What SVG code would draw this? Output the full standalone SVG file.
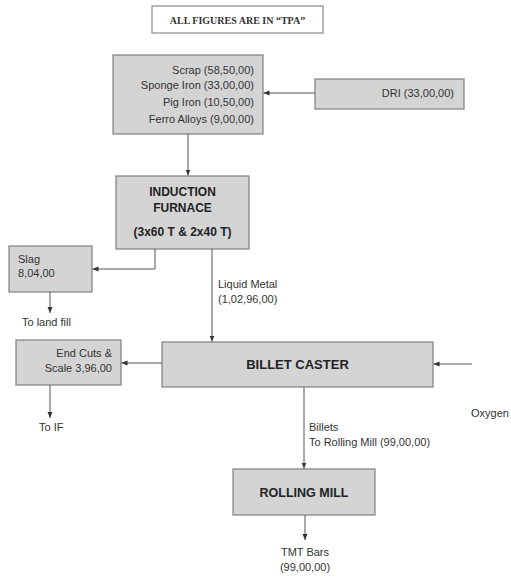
<svg xmlns="http://www.w3.org/2000/svg" width="511" height="577" viewBox="0 0 511 577">
<style>
.box{fill:#d4d4d4;stroke:#7f7f7f;stroke-width:1.2}
.t{font-family:"Liberation Sans",Arial,sans-serif;font-size:11px;fill:#333}
.b{font-family:"Liberation Sans",Arial,sans-serif;font-weight:bold;fill:#222}
.ln{stroke:#555;stroke-width:1;fill:none}
</style>
<defs>
<marker id="ah" viewBox="0 0 6 6" refX="6" refY="3" markerWidth="6" markerHeight="6" orient="auto" markerUnits="userSpaceOnUse">
<path d="M0,0.5 L6,3 L0,5.5 z" fill="#333"/>
</marker>
</defs>
<rect width="511" height="577" fill="#fff"/>
<g id="title">
<rect x="152" y="6" width="171" height="27" fill="#fff" stroke="#888" stroke-width="1.2"/>
<text x="237.5" y="23.5" text-anchor="middle" font-family="'Liberation Serif','Times New Roman',serif" font-weight="bold" font-size="10" fill="#333">ALL FIGURES ARE IN “TPA”</text>
</g>
<g id="inputs">
<rect class="box" x="113" y="55" width="150" height="79"/>
<text class="t" text-anchor="end" x="254" y="74">Scrap (58,50,00)</text>
<text class="t" text-anchor="end" x="254" y="89">Sponge Iron (33,00,00)</text>
<text class="t" text-anchor="end" x="254" y="106">Pig Iron (10,50,00)</text>
<text class="t" text-anchor="end" x="254" y="123">Ferro Alloys (9,00,00)</text>
</g>
<g id="dri">
<rect class="box" x="315" y="79" width="149" height="30"/>
<text class="t" text-anchor="end" x="454" y="97">DRI (33,00,00)</text>
</g>
<g id="furnace">
<rect class="box" x="116" y="176" width="133" height="73"/>
<text class="b" font-size="12" text-anchor="middle" x="182.5" y="196">INDUCTION</text>
<text class="b" font-size="12" text-anchor="middle" x="182.5" y="212">FURNACE</text>
<text class="b" font-size="12" text-anchor="middle" x="182.5" y="236">(3x60 T &amp; 2x40 T)</text>
</g>
<g id="slag">
<rect class="box" x="9" y="246" width="83" height="46"/>
<text class="t" x="18" y="263">Slag</text>
<text class="t" x="18" y="277">8,04,00</text>
</g>
<g id="landfill">
<text class="t" x="22" y="326">To land fill</text>
</g>
<g id="endcuts">
<rect class="box" x="16" y="340" width="105" height="45"/>
<text class="t" text-anchor="end" x="112" y="357">End Cuts &amp;</text>
<text class="t" text-anchor="end" x="112" y="372">Scale 3,96,00</text>
</g>
<g id="toif">
<text class="t" x="39" y="431">To IF</text>
</g>
<g id="caster">
<rect class="box" x="162" y="342" width="271" height="45"/>
<text class="b" font-size="13" text-anchor="middle" x="297.5" y="369">BILLET CASTER</text>
</g>
<g id="oxygen">
<text class="t" x="471" y="417">Oxygen</text>
</g>
<g id="rolling">
<rect class="box" x="233" y="469" width="142" height="46"/>
<text class="b" font-size="12.5" text-anchor="middle" x="304" y="497">ROLLING MILL</text>
</g>
<g id="tmt">
<text class="t" text-anchor="middle" x="305" y="556">TMT Bars</text>
<text class="t" text-anchor="middle" x="305" y="571">(99,00,00)</text>
</g>
<g id="connectors">
<line class="ln" x1="315" y1="93" x2="263.5" y2="93" marker-end="url(#ah)"/>
<line class="ln" x1="188" y1="134" x2="188" y2="175.5" marker-end="url(#ah)"/>
<polyline class="ln" points="155,249 155,269 92.5,269" marker-end="url(#ah)"/>
<line class="ln" x1="50" y1="292" x2="50" y2="313" marker-end="url(#ah)"/>
<line class="ln" x1="212" y1="249" x2="212" y2="341.5" marker-end="url(#ah)"/>
<text class="t" x="218" y="288">Liquid Metal</text>
<text class="t" x="218" y="303">(1,02,96,00)</text>
<line class="ln" x1="162" y1="363" x2="121.5" y2="363" marker-end="url(#ah)"/>
<line class="ln" x1="472" y1="364" x2="433.5" y2="364" marker-end="url(#ah)"/>
<line class="ln" x1="50" y1="385" x2="50" y2="418" marker-end="url(#ah)"/>
<line class="ln" x1="304" y1="387" x2="304" y2="468.5" marker-end="url(#ah)"/>
<text class="t" x="309" y="431">Billets</text>
<text class="t" x="309" y="446">To Rolling Mill (99,00,00)</text>
<line class="ln" x1="305" y1="515" x2="305" y2="540" marker-end="url(#ah)"/>
</g>
</svg>
